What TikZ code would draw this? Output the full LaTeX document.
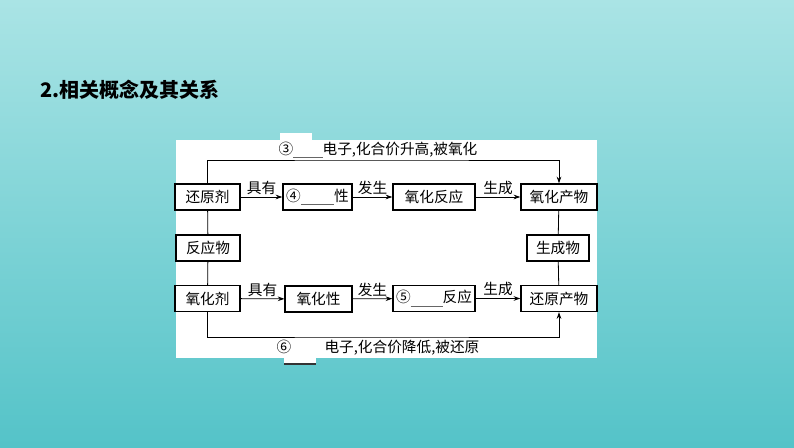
\documentclass[tikz,border=0pt]{standalone}
\usepackage{fontspec}
\setmainfont{Noto Sans CJK SC}
\usepackage{xcolor}
\usetikzlibrary{positioning, arrows.meta}

\definecolor{bgtop}{RGB}{170,228,229}
\definecolor{bgbot}{RGB}{84,195,200}

\begin{document}
\begin{tikzpicture}[
        x=0.75pt, y=-0.75pt,
        box/.style={rectangle, draw=black, line width=1.1pt, fill=white,
            minimum height=19.5pt, inner sep=0pt, font=\fontsize{11}{13}\selectfont},
        flow/.style={draw, line width=0.6pt, -{Stealth[length=5pt, width=3.5pt]}},
        link/.style={draw, line width=0.6pt},
        lbl/.style={font=\fontsize{11}{13}\selectfont, inner sep=1.5pt},
        blank/.style={fill=white, draw=none}
    ]
    % background and white panel
    \shade [top color=bgtop, bottom color=bgbot] (0,0) rectangle (794,448);
    \useasboundingbox (0,0) rectangle (794,448);
    \fill [white] (176,140) rectangle (597,358);
    \fill [blank] (280,133) rectangle (312,141);
    \fill [blank] (284,357) rectangle (316,364);
    \draw [black!80, line width=0.8pt] (284,364) -- (316,364);

    \node [anchor=west, font=\fontsize{15}{18}\selectfont\bfseries] (title) at (36,90) {2.相关概念及其关系};

    % upper row
    \node [box, minimum width=48.75pt] (reducer) at (207.5,197) {还原剂};
    \node [box, minimum width=51.75pt] (redprop) at (317.5,197) {④\textcolor{black!60}{\rule[-2pt]{25pt}{0.6pt}}性};
    \node [box, minimum width=61.5pt] (oxreact) at (434,197) {氧化反应};
    \node [box, minimum width=57pt] (oxprod) at (559,197) {氧化产物};

    % middle row
    \node [box, minimum width=48pt] (reactant) at (208,248) {反应物};
    \node [box, minimum width=46.5pt] (product) at (558,248) {生成物};

    % lower row
    \node [box, minimum width=48.75pt] (oxidant) at (207.5,298.5) {氧化剂};
    \node [box, minimum width=50pt] (oxprop) at (318.5,299) {氧化性};
    \node [box, minimum width=61.5pt] (redreact) at (434,298.5) {⑤\textcolor{black!60}{\rule[-3pt]{24pt}{0.6pt}}反应};
    \node [box, minimum width=57pt] (redprod) at (559,298.5) {还原产物};

    % electron routes
    \coordinate (toprail) at (380,160);
    \coordinate (botrail) at (380,337);
    \node [lbl] (toplbl) at (378,150) {③\textcolor{black!60}{\rule[-2pt]{22pt}{0.6pt}}电子,化合价升高,被氧化};
    \node [lbl] (botlbl) at (378,348) {⑥\hspace{25pt}电子,化合价降低,被还原};

    \draw [flow] (reducer.north) |- (toprail) -| (oxprod.north);
    \draw [flow] (oxidant.south) |- (botrail) -| (redprod.south);

    \draw [flow] (reducer) -- node[above, lbl] {具有} (redprop);
    \draw [flow] (redprop) -- node[above, lbl] {发生} (oxreact);
    \draw [flow] (oxreact) -- node[above, lbl] {生成} (oxprod);

    \draw [flow] (oxidant) -- node[above, lbl] {具有} (oxprop);
    \draw [flow] (oxprop) -- node[above, lbl] {发生} (redreact);
    \draw [flow] (redreact) -- node[above, lbl] {生成} (redprod);

    \draw [link] (reducer) -- (reactant);
    \draw [link] (reactant) -- (oxidant);
    \draw [link] (oxprod) -- (product);
    \draw [link] (product) -- (redprod);
\end{tikzpicture}
\end{document}
